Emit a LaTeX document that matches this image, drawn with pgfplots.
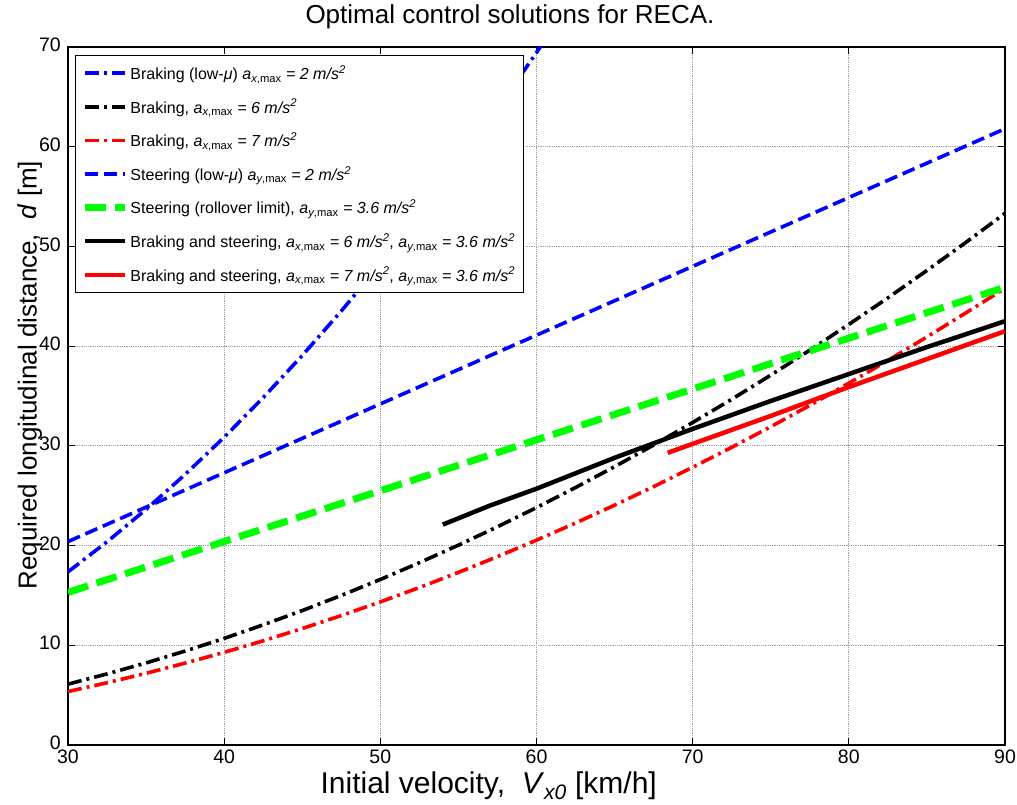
\documentclass[border=0pt]{standalone}
\usepackage{fontspec}
\setmainfont{Liberation Sans}
\usepackage{pgfplots}
\pgfplotsset{compat=1.18}
\definecolor{mgreen}{RGB}{0,255,0}
\begin{document}
\begin{tikzpicture}
\begin{axis}[
  name=ax,
  scale only axis,
  width=937pt, height=698pt,
  xmin=30, xmax=90, ymin=0, ymax=70,
  xtick={30,40,...,90}, ytick={0,10,...,70},
  xtick pos=both, ytick pos=both,
  tick align=inside,
  major tick length=7pt,
  tick style={black, line width=0.8pt},
  grid=major,
  major grid style={gray!75, line width=0.8pt, densely dotted},
  axis line style={black, line width=1.2pt},
  /pgf/number format/assume math mode=true,
  ticklabel style={font=\fontsize{19.5}{22}\selectfont, inner sep=1pt},
  yticklabel style={xshift=-6pt, yshift=2pt},
  xticklabel style={yshift=-4pt},
  title={Optimal control solutions for RECA.},
  title style={font=\fontsize{26}{30}\selectfont, at={(axis description cs:0.4717,1)}, anchor=base, yshift=17pt},
  xlabel={Initial velocity,\ \ \textit{V}\textsubscript{\textit{x0}} [km/h]},
  xlabel style={font=\fontsize{30}{34}\selectfont, at={(axis description cs:0.449,0)}, anchor=base, yshift=-48.5pt},
  ylabel={Required longitudinal distance,\ \ \textit{d} [m]},
  ylabel style={font=\fontsize{26}{30}\selectfont, at={(axis description cs:-0.0406,0.53)}, anchor=center},
  legend cell align=left,
  legend style={at={(axis description cs:0,1)}, anchor=north west, xshift=7pt, yshift=-8pt,
    draw=black, line width=1pt, fill=white, font=\fontsize{16}{19}\selectfont,
    row sep=14pt, inner xsep=6pt, inner ysep=8pt},
  legend image code/.code={\draw[#1] (0pt,0pt) -- (40pt,0pt);},
]
% Braking low-mu a=2
\addplot[blue, line width=3.6pt, dash pattern=on 14pt off 5pt on 3pt off 5pt] coordinates {
(30,17.36) (32.5,20.38) (35,23.63) (37.5,27.13) (40,30.86) (42.5,34.84) (45,39.06)
(47.5,43.52) (50,48.23) (52.5,53.17) (55,58.35) (57.5,63.78) (60,69.44) (62.5,75.35)};
\addlegendentry{Braking (low-\textit{μ}) \textit{a}\textsubscript{\textit{x},max} \textit{= 2 m/s\textsuperscript{2}}}
% Braking a=6
\addplot[black, line width=3.6pt, dash pattern=on 14pt off 5pt on 3pt off 5pt] coordinates {
(30,6.10) (32.5,7.13) (35,8.23) (37.5,9.42) (40,10.69) (42.5,12.05) (45,13.48) (47.5,15.00)
(50,16.60) (52.5,18.28) (55,20.04) (57.5,21.88) (60,23.81) (62.5,25.82) (65,27.91) (67.5,30.08)
(70,32.34) (72.5,34.67) (75,37.09) (77.5,39.59) (80,42.18) (82.5,44.84) (85,47.59) (87.5,50.41) (90,53.32)};
\addlegendentry{Braking, \textit{a}\textsubscript{\textit{x},max} \textit{= 6 m/s\textsuperscript{2}}}
% Braking a=7
\addplot[red, line width=3.6pt, dash pattern=on 14pt off 5pt on 3pt off 5pt] coordinates {
(30,5.36) (32.5,6.24) (35,7.19) (37.5,8.21) (40,9.29) (42.5,10.45) (45,11.68) (47.5,12.98)
(50,14.35) (52.5,15.79) (55,17.31) (57.5,18.89) (60,20.54) (62.5,22.26) (65,24.05) (67.5,25.91)
(70,27.85) (72.5,29.85) (75,31.92) (77.5,34.06) (80,36.28) (82.5,38.56) (85,40.92) (87.5,43.34) (90,45.80)};
\addlegendentry{Braking, \textit{a}\textsubscript{\textit{x},max} \textit{= 7 m/s\textsuperscript{2}}}
% Steering low-mu
\addplot[blue, line width=3.6pt, dash pattern=on 13pt off 6pt] coordinates {
(30,20.4) (40,27.3) (50,34.2) (60,41.1) (70,48.0) (80,54.9) (90,61.8)};
\addlegendentry{Steering (low-\textit{μ}) \textit{a}\textsubscript{\textit{y},max} \textit{= 2 m/s\textsuperscript{2}}}
% Steering rollover
\addplot[mgreen, line width=7pt, dash pattern=on 21pt off 9pt] coordinates {
(30,15.3) (40,20.4) (50,25.5) (60,30.6) (70,35.7) (80,40.8) (90,45.9)};
\addlegendentry{Steering (rollover limit), \textit{a}\textsubscript{\textit{y},max} \textit{= 3.6 m/s\textsuperscript{2}}}
% Braking and steering 6
\addplot[black, line width=4.5pt] coordinates {
(54.0,22.1) (57,24.0) (60,25.7) (65,28.8) (70,31.7) (75,34.5) (80,37.2) (85,39.9) (90,42.5)};
\addlegendentry{Braking and steering, \textit{a}\textsubscript{\textit{x},max} \textit{= 6 m/s\textsuperscript{2}}, \textit{a}\textsubscript{\textit{y},max} \textit{= 3.6 m/s\textsuperscript{2}}}
% Braking and steering 7
\addplot[red, line width=4.5pt] coordinates {
(68.4,29.3) (70,30.2) (75,33.0) (80,35.9) (85,38.7) (90,41.5)};
\addlegendentry{Braking and steering, \textit{a}\textsubscript{\textit{x},max} \textit{= 7 m/s\textsuperscript{2}}, \textit{a}\textsubscript{\textit{y},max} \textit{= 3.6 m/s\textsuperscript{2}}}
\end{axis}
\pgfresetboundingbox
\path[use as bounding box] ([shift={(-68pt,-60pt)}]ax.south west) rectangle ([shift={(12pt,47pt)}]ax.north east);
\end{tikzpicture}
\end{document}
